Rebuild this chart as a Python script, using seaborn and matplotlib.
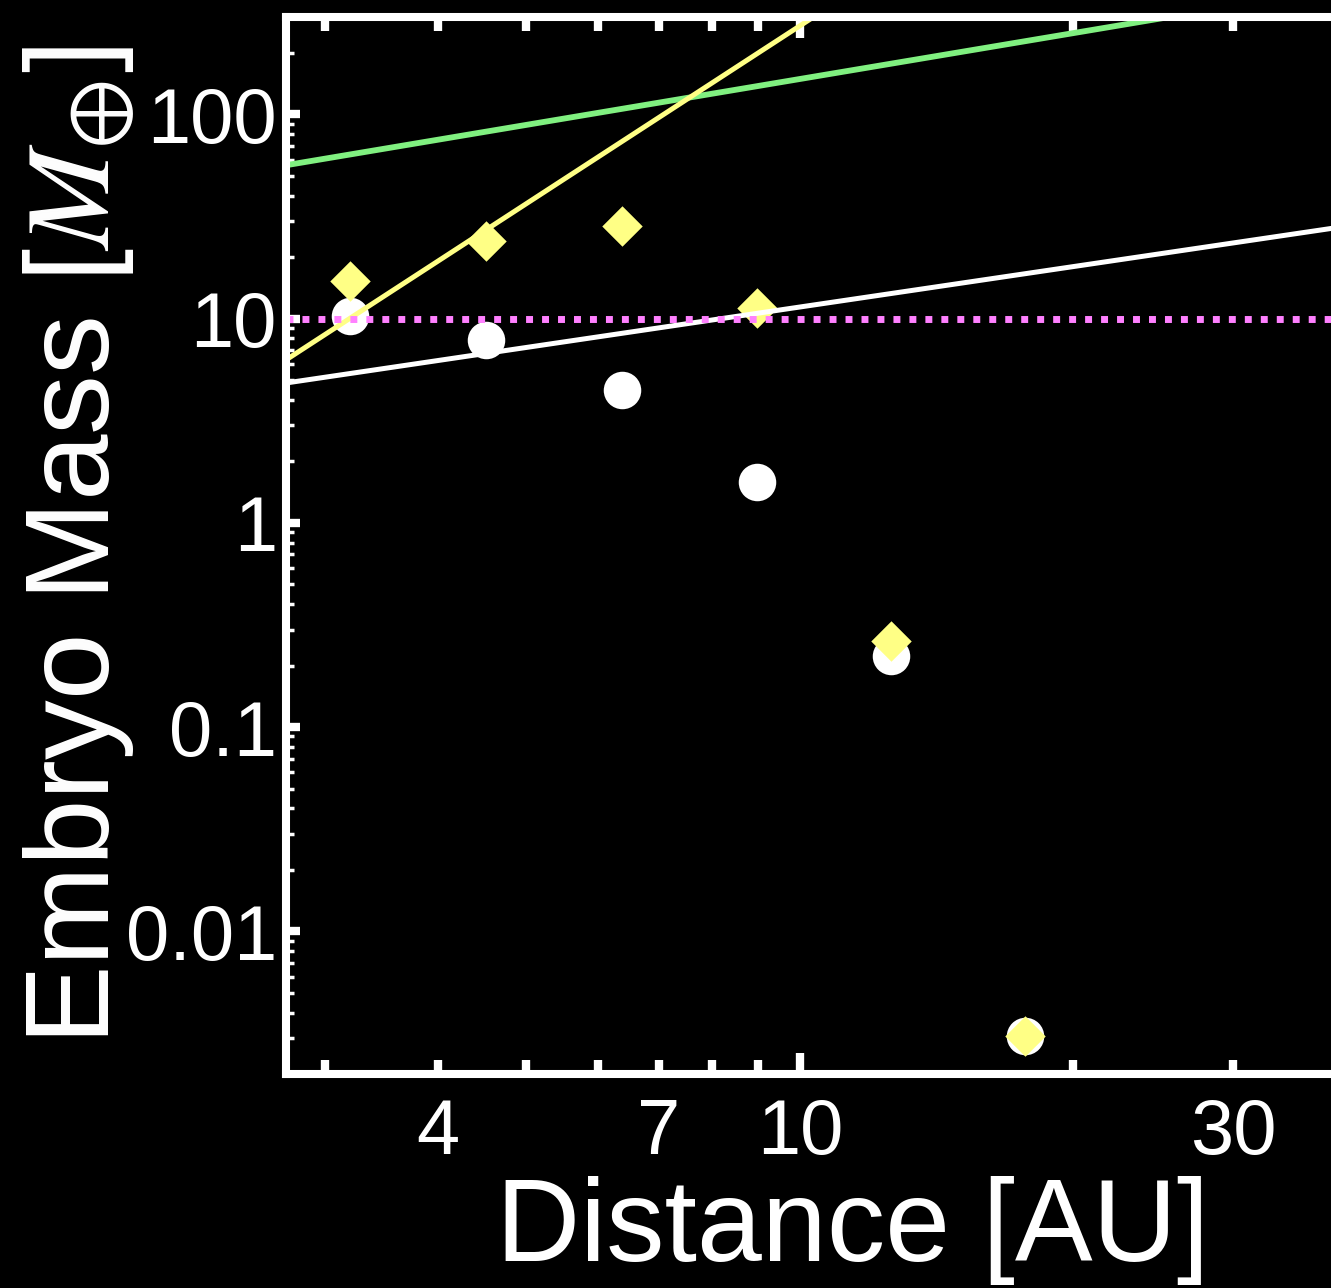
import matplotlib
matplotlib.use("Agg")
import matplotlib.pyplot as plt
import matplotlib.ticker as mticker
import seaborn as sns

# ---------------- data ----------------
dist_au = [3.20, 4.51, 6.37, 8.97, 12.6, 17.7]
mass_circle = [10.3, 7.86, 4.48, 1.59, 0.222, 0.00308]
mass_diamond = [15.3, 23.9, 28.4, 11.3, 0.263, 0.00308]

green_x = [2.72, 48.0]
green_y = [56.4, 481.0]
yellow_x = [2.72, 12.0]
yellow_y = [6.28, 460.0]
white_x = [2.72, 48.0]
white_y = [4.84, 32.0]
magenta_x = [2.72, 48.0]
magenta_y = [10.0, 10.0]

x_major = [10]
x_minor = [3, 4, 5, 6, 7, 8, 9, 20, 30, 40]
x_labeled = [4, 7, 10, 30]
y_major = [0.01, 0.1, 1, 10, 100]
y_labels = ["0.01", "0.1", "1", "10", "100"]

# ---------------- style ----------------
YELLOW = "#ffff85"
GREEN = "#80f080"
MAGENTA = "#ff80ff"

sns.set_theme(style="dark", rc={
    "figure.facecolor": "black",
    "axes.facecolor": "black",
    "axes.edgecolor": "white",
    "axes.labelcolor": "white",
    "text.color": "white",
    "xtick.color": "white",
    "ytick.color": "white",
    "axes.grid": False,
})
plt.rcParams["font.family"] = ["Liberation Sans", "DejaVu Sans"]
plt.rcParams["mathtext.fontset"] = "stix"

fig = plt.figure(figsize=(13.31, 12.88), dpi=100)
ax = fig.add_axes([0.21488, 0.16615, 0.8512, 0.82066])
ax.set_xscale("log")
ax.set_yscale("log")

sns.scatterplot(x=dist_au, y=mass_circle, marker="o", s=27.0 ** 2,
                color="white", linewidth=0, ax=ax, zorder=3, legend=False)
sns.scatterplot(x=dist_au, y=mass_diamond, marker="D", s=20.6 ** 2,
                color=YELLOW, linewidth=0, ax=ax, zorder=4, legend=False)

sns.lineplot(x=green_x, y=green_y, color=GREEN, linewidth=4.2, ax=ax,
             estimator=None, sort=False, zorder=5)
sns.lineplot(x=yellow_x, y=yellow_y, color=YELLOW, linewidth=3.6, ax=ax,
             estimator=None, sort=False, zorder=5)
sns.lineplot(x=white_x, y=white_y, color="white", linewidth=3.6, ax=ax,
             estimator=None, sort=False, zorder=5)
sns.lineplot(x=magenta_x, y=magenta_y, color=MAGENTA, linewidth=5.0, ax=ax,
             estimator=None, sort=False, zorder=6,
             linestyle=(0, (1, 1.3)), dash_capstyle="butt")

ax.set_xlim(2.72, 48)
ax.set_ylim(0.002, 300)

ax.xaxis.set_major_locator(mticker.FixedLocator(x_major))
ax.xaxis.set_minor_locator(mticker.FixedLocator(x_minor))
fmt_x = mticker.FuncFormatter(lambda v, p: f"{v:g}" if round(v) in x_labeled else "")
ax.xaxis.set_major_formatter(fmt_x)
ax.xaxis.set_minor_formatter(fmt_x)

ax.yaxis.set_major_locator(mticker.FixedLocator(y_major))
ax.yaxis.set_major_formatter(mticker.FixedFormatter(y_labels))
ax.yaxis.set_minor_locator(mticker.LogLocator(base=10, subs=range(2, 10), numticks=20))
ax.yaxis.set_minor_formatter(mticker.NullFormatter())

ax.tick_params(axis="x", which="major", direction="in", length=15, width=6,
               top=True, bottom=True, labelsize=56, pad=16.5)
ax.tick_params(axis="x", which="minor", direction="in", length=10, width=6,
               top=True, bottom=True, labelsize=56, pad=16.5)
ax.tick_params(axis="y", which="major", direction="in", length=10, width=6,
               left=True, right=True, labelsize=56, pad=6.5)
ax.tick_params(axis="y", which="minor", direction="in", length=5.4, width=2.5,
               left=True, right=True)

for sp in ax.spines.values():
    sp.set_linewidth(5.8)
    sp.set_color("white")
    sp.set_zorder(10)

ax.set_xlabel("Distance [AU]", fontsize=84)
ax.set_ylabel(r"Embryo Mass [$M_{\oplus}$]", fontsize=86)
ax.xaxis.set_label_coords(0.5, -0.0965)
ax.yaxis.set_label_coords(-0.1314, 0.5)

fig.savefig("out.png", dpi=100, facecolor="black")
